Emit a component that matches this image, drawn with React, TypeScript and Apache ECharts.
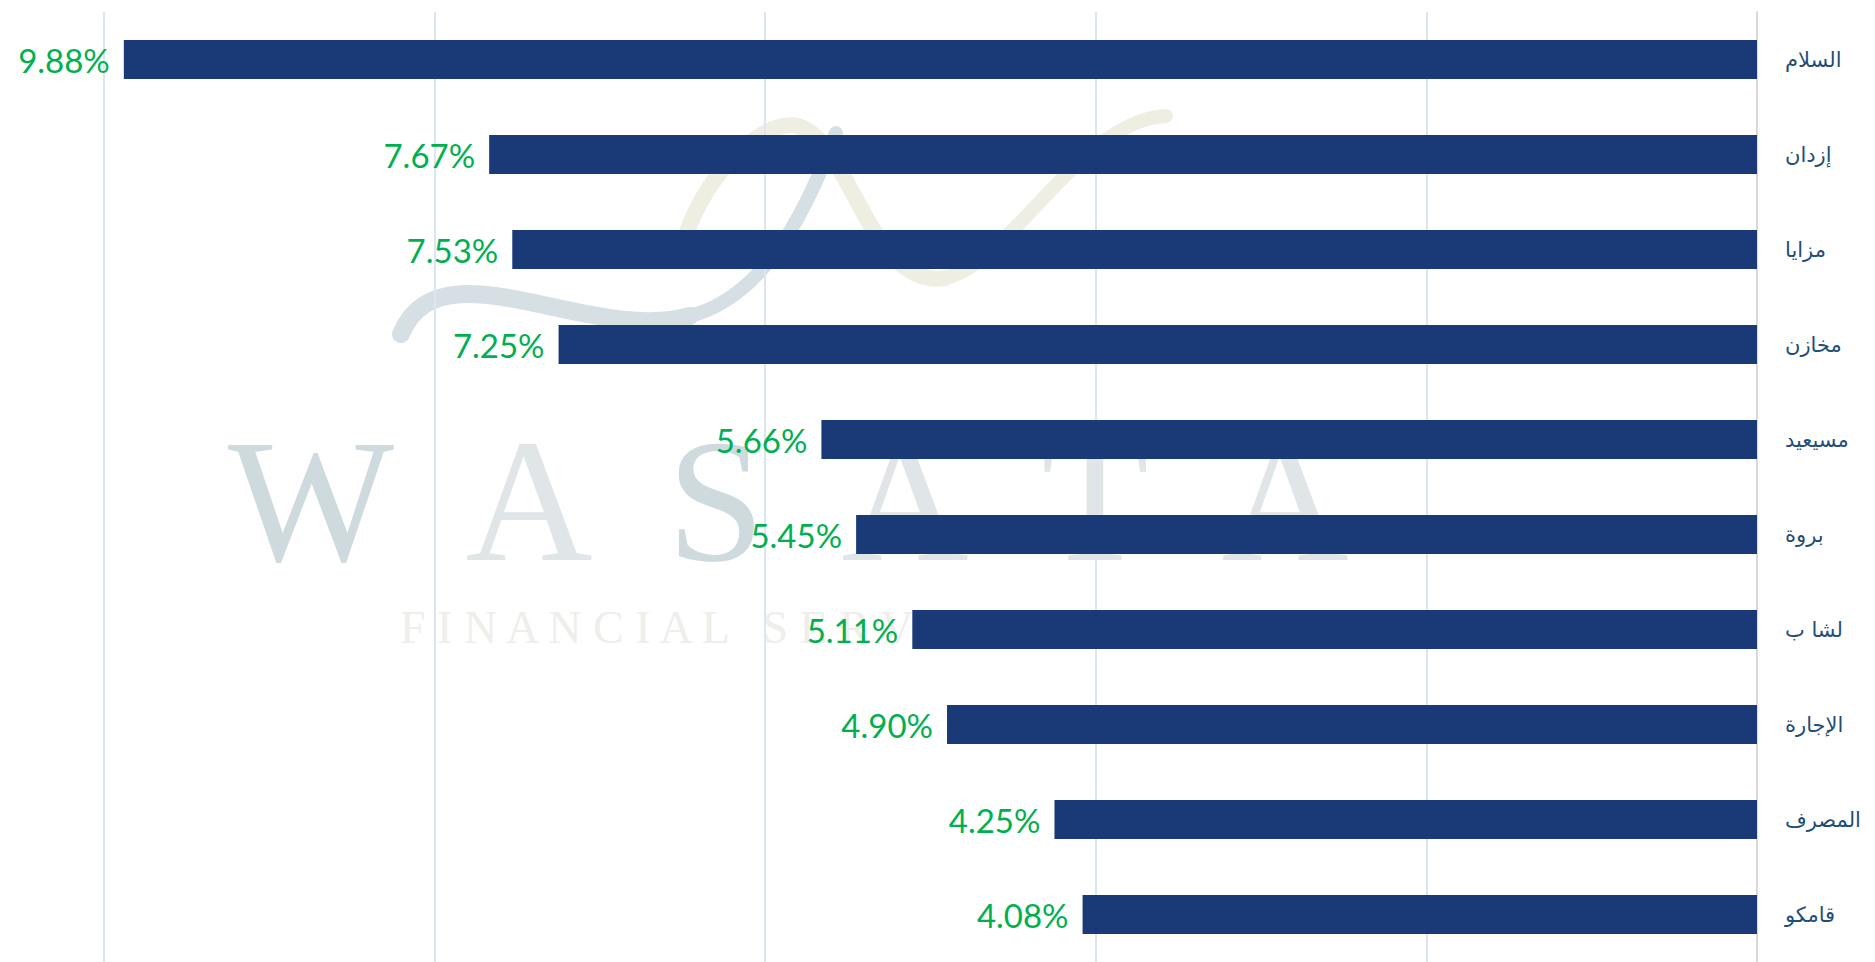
import React, { useEffect, useRef } from "react";
import * as echarts from "echarts";

const categories = ["السلام", "إزدان", "مزايا", "مخازن", "مسيعيد", "بروة", "لشا ب", "الإجارة", "المصرف", "قامكو"];
const values = [9.88, 7.67, 7.53, 7.25, 5.66, 5.45, 5.11, 4.9, 4.25, 4.08];
const axisMin = 0;
const axisMax = 10;
const axisInterval = 2;
const watermarkLetters = ["W", "A", "S", "A", "T", "A"];

export default function App() {
  const ref = useRef<HTMLDivElement>(null);
  useEffect(() => {
    if (!ref.current) return;
    const chart = echarts.init(ref.current, null, { renderer: "svg" });
    const letterX = [311, 529, 716, 905, 1095, 1285];
    const graphic: any[] = [
      ...watermarkLetters.map((l, i) => ({
        type: "text",
        z: 0,
        silent: true,
        style: {
          text: l,
          x: letterX[i],
          y: 588,
          align: "center",
          verticalAlign: "bottom",
          font: "normal 176px 'Liberation Serif', serif",
          fill: i === 0 || i === 2 ? "#cfdadf" : "#e0e5e8",
        },
      })),
      {
        type: "text",
        z: 0,
        silent: true,
        style: {
          text: "F I N A N C I A L   S E R V I C E S",
          x: 400,
          y: 650,
          verticalAlign: "bottom",
          font: "normal 46px 'Liberation Serif', serif",
          fill: "#eeeeea",
        },
      },
      {
        type: "bezierCurve",
        z: 0,
        silent: true,
        shape: { x1: 401, y1: 334, cpx1: 440, cpy1: 240, cpx2: 590, cpy2: 345, x2: 690, y2: 316 },
        style: { stroke: "#d6e0e4", lineWidth: 18, fill: "none", lineCap: "round" },
      },
      {
        type: "bezierCurve",
        z: 0,
        silent: true,
        shape: { x1: 690, y1: 316, cpx1: 770, cpy1: 295, cpx2: 810, cpy2: 200, x2: 836, y2: 133 },
        style: { stroke: "#d6e0e4", lineWidth: 14, fill: "none", lineCap: "round" },
      },
      {
        type: "bezierCurve",
        z: 0,
        silent: true,
        shape: { x1: 683, y1: 245, cpx1: 700, cpy1: 180, cpx2: 760, cpy2: 118, x2: 798, y2: 126 },
        style: { stroke: "#efeee2", lineWidth: 16, fill: "none", lineCap: "round" },
      },
      {
        type: "bezierCurve",
        z: 0,
        silent: true,
        shape: { x1: 798, y1: 126, cpx1: 850, cpy1: 140, cpx2: 870, cpy2: 290, x2: 945, y2: 278 },
        style: { stroke: "#efeee2", lineWidth: 16, fill: "none", lineCap: "round" },
      },
      {
        type: "bezierCurve",
        z: 0,
        silent: true,
        shape: { x1: 945, y1: 278, cpx1: 1010, cpy1: 265, cpx2: 1080, cpy2: 120, x2: 1166, y2: 116 },
        style: { stroke: "#efeee2", lineWidth: 14, fill: "none", lineCap: "round" },
      },
    ];
    chart.setOption({
      animation: false,
      backgroundColor: "#ffffff",
      graphic,
      grid: { left: 104, right: 118, top: 12, bottom: -6, containLabel: false },
      xAxis: {
        type: "value",
        inverse: true,
        min: axisMin,
        max: axisMax,
        interval: axisInterval,
        axisLabel: { show: false },
        axisLine: { show: false },
        axisTick: { show: false },
        splitLine: { show: true, lineStyle: { color: "#dce6f2", width: 2 } },
      },
      yAxis: {
        type: "category",
        data: categories,
        inverse: true,
        position: "right",
        axisTick: { show: false },
        axisLine: { show: true, onZero: false, lineStyle: { color: "#d9d9d9", width: 2 } },
        axisLabel: {
          margin: 28,
          align: "left",
          color: "#1f4e79",
          fontSize: 21,
          fontFamily: "'DejaVu Sans', Arial, sans-serif",
        },
      },
      series: [
        {
          type: "bar",
          data: values,
          barWidth: 39,
          z: 3,
          itemStyle: { color: "#1a3977" },
          label: {
            show: true,
            position: "left",
            distance: 14,
            color: "#00b050",
            fontSize: 33,
            fontFamily: "Lato, 'Noto Sans', sans-serif",
            formatter: (p: any) => p.value.toFixed(2) + "%",
          },
        },
      ],
    });
    return () => chart.dispose();
  }, []);
  return (
    <div
      ref={ref}
      style={{ position: "absolute", left: 0, top: 0, width: 1875, height: 962 }}
    />
  );
}
